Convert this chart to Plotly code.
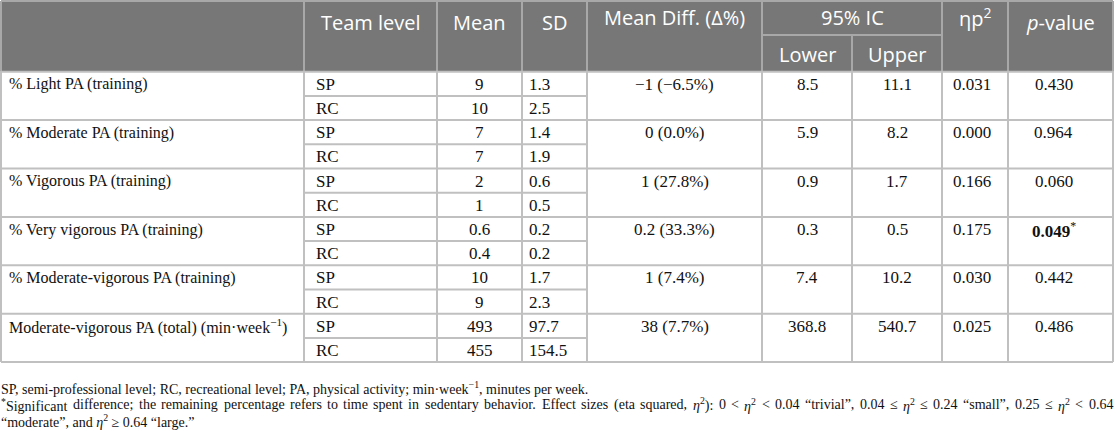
import re
import plotly.graph_objects as go

# ---------------- data ----------------
variables = ["% Light PA (training)", "% Moderate PA (training)", "% Vigorous PA (training)",
             "% Very vigorous PA (training)", "% Moderate-vigorous PA (training)",
             "Moderate-vigorous PA (total) (min·week<sup>−1</sup>)"]
levels = ["SP", "RC"]
mean_sp = ["9", "7", "2", "0.6", "10", "493"]
mean_rc = ["10", "7", "1", "0.4", "9", "455"]
sd_sp = ["1.3", "1.4", "0.6", "0.2", "1.7", "97.7"]
sd_rc = ["2.5", "1.9", "0.5", "0.2", "2.3", "154.5"]
mean_diff = ["−1 (−6.5%)", "0 (0.0%)", "1 (27.8%)", "0.2 (33.3%)", "1 (7.4%)", "38 (7.7%)"]
ic_lower = ["8.5", "5.9", "0.9", "0.3", "7.4", "368.8"]
ic_upper = ["11.1", "8.2", "1.7", "0.5", "10.2", "540.7"]
eta_p2 = ["0.031", "0.000", "0.166", "0.175", "0.030", "0.025"]
p_value = ["0.430", "0.964", "0.060", "<b>0.049</b><sup>*</sup>", "0.442", "0.486"]

headers = ["", "Team level", "Mean", "SD", "Mean Diff. (Δ%)", "95% IC", "ηp<sup>2</sup>", "<i>p</i>-value"]
sub_headers = ["Lower", "Upper"]

footnote1 = "SP, semi-professional level; RC, recreational level; PA, physical activity; min·week<sup>−1</sup>, minutes per week."
footnote2 = ("<sup>*</sup>Significant difference; the remaining percentage refers to time spent in sedentary behavior. "
             "Effect sizes (eta squared, <i>η</i><sup>2</sup>): 0 < <i>η</i><sup>2</sup> < 0.04 “trivial”, "
             "0.04 ≤ <i>η</i><sup>2</sup> ≤ 0.24 “small”, 0.25 ≤ <i>η</i><sup>2</sup> < 0.64")
footnote3 = "“moderate”, and <i>η</i><sup>2</sup> ≥ 0.64 “large.”"

# ---------------- layout constants ----------------
W, H = 1116, 431
col_x = [1, 304, 437, 522, 587, 762, 852, 942, 1008, 1113]
top, head_mid, head_bot = 1, 35, 71.7
row_h = 24.2
n_rows = 2 * len(variables)
bot = head_bot + n_rows * row_h

HEAD_BG = "#777777"
GRID = "#c0c0c0"
HEAD_GRID = "#a8a8a8"
SANS = "Open Sans"
SERIF = "Liberation Serif"
BODY = 17
LABEL = 16
HEAD = 20
FOOT = 14

shapes = []
ann = []

def line(x0, y0, x1, y1, color=GRID, w=2):
    shapes.append(dict(type="line", x0=x0, y0=y0, x1=x1, y1=y1, xref="x", yref="y",
                       line=dict(color=color, width=w)))

def text(x, y, s, size=BODY, font=SERIF, color="#111111", anchor="center"):
    ann.append(dict(x=x, y=y, xref="x", yref="y", text=s, showarrow=False,
                    xanchor=anchor, yanchor="middle", borderpad=0,
                    font=dict(family=font, size=size, color=color)))

# approximate Times / Liberation Serif advance widths (em/1000) for justification
TW = {" ": 250, "a": 444, "b": 500, "c": 444, "d": 500, "e": 444, "f": 333, "g": 500, "h": 500,
      "i": 278, "j": 278, "k": 500, "l": 278, "m": 778, "n": 500, "o": 500, "p": 500, "q": 500,
      "r": 333, "s": 389, "t": 278, "u": 500, "v": 500, "w": 722, "x": 500, "y": 500, "z": 444,
      "E": 611, "S": 556, ".": 250, ",": 250, ";": 278, ":": 278, "(": 333, ")": 333, "<": 564,
      "≤": 549, "“": 444, "”": 444, "*": 500, "η": 500}

def text_width(s, size):
    w, scale = 0.0, 1.0
    for tok in re.split(r"(<[^>]+>)", s):
        if tok.startswith("<") and tok.endswith(">") and len(tok) > 1 and tok[1] in "/sib":
            if tok == "<sup>":
                scale = 0.7
            elif tok == "</sup>":
                scale = 1.0
            continue
        for ch in tok:
            w += TW.get(ch, 500) * scale
    return w * size / 1000.0

def justified(s, x0, x1, y, size):
    words = s.split(" ")
    widths = [text_width(wd, size) for wd in words]
    gap = (x1 - x0 - sum(widths)) / (len(words) - 1)
    x = x0
    for wd, wdt in zip(words, widths):
        text(x, y, wd, size, anchor="left")
        x += wdt + gap

# header background
shapes.append(dict(type="rect", x0=col_x[0], y0=top, x1=col_x[-1], y1=head_bot, xref="x", yref="y",
                   fillcolor=HEAD_BG, line=dict(width=0), layer="below"))

# header separators
line(col_x[0], top, col_x[-1], top, HEAD_GRID)
for i, x in enumerate(col_x):
    if i == 6:
        line(x, head_mid, x, head_bot, HEAD_GRID)
    else:
        line(x, top, x, head_bot, HEAD_GRID)
line(col_x[5], head_mid, col_x[7], head_mid, HEAD_GRID)

# body grid
for r in range(n_rows + 1):
    y = head_bot + r * row_h
    if r % 2 == 0:
        line(col_x[0], y, col_x[-1], y)
    else:
        line(col_x[1], y, col_x[4], y)
for x in col_x:
    line(x, head_bot, x, bot)

# header text
hc = [(col_x[i] + col_x[i + 1]) / 2 for i in range(len(col_x) - 1)]
hy = {1: 22, 2: 22, 3: 22, 4: 17, 6: 17, 7: 22}
for i, hdr in enumerate(headers):
    if i == 0:
        continue
    if i < 5:
        text(hc[i], hy[i], hdr, HEAD, SANS, "white")
    elif i == 5:
        text((col_x[5] + col_x[7]) / 2, 17, hdr, HEAD, SANS, "white")
    else:
        text(hc[i + 1], hy[i], hdr, HEAD, SANS, "white")
text(hc[5], 54, sub_headers[0], HEAD, SANS, "white")
text(hc[6], 54, sub_headers[1], HEAD, SANS, "white")

# body text
for g in range(len(variables)):
    y_sp = head_bot + (2 * g + 0.5) * row_h + 0.5
    y_rc = head_bot + (2 * g + 1.5) * row_h + 0.5
    text(col_x[0] + 7, y_sp, variables[g], LABEL, anchor="left")
    text(col_x[1] + 11, y_sp, levels[0], anchor="left")
    text(col_x[1] + 11, y_rc, levels[1], anchor="left")
    text(hc[2], y_sp, mean_sp[g])
    text(hc[2], y_rc, mean_rc[g])
    text(col_x[3] + 6, y_sp, sd_sp[g], anchor="left")
    text(col_x[3] + 6, y_rc, sd_rc[g], anchor="left")
    text(hc[4], y_sp, mean_diff[g])
    text(hc[5], y_sp, ic_lower[g])
    text(hc[6], y_sp, ic_upper[g])
    text(hc[7] - 3, y_sp, eta_p2[g])
    text(hc[8] - 7, y_sp, p_value[g])

# footnotes
text(0, 388, footnote1, FOOT, anchor="left")
justified(footnote2, 0, 1112, 404.5, FOOT)
text(0, 421, footnote3, FOOT, anchor="left")

fig = go.Figure()
fig.update_layout(
    width=W, height=H, margin=dict(l=0, r=0, t=0, b=0),
    paper_bgcolor="white", plot_bgcolor="white",
    xaxis=dict(range=[0, W], visible=False, fixedrange=True),
    yaxis=dict(range=[H, 0], visible=False, fixedrange=True),
    shapes=shapes, annotations=ann, showlegend=False,
)
fig.write_html("out.html", config=dict(displayModeBar=False),
               post_script="document.body.style.margin='0';document.body.style.overflow='hidden';")
